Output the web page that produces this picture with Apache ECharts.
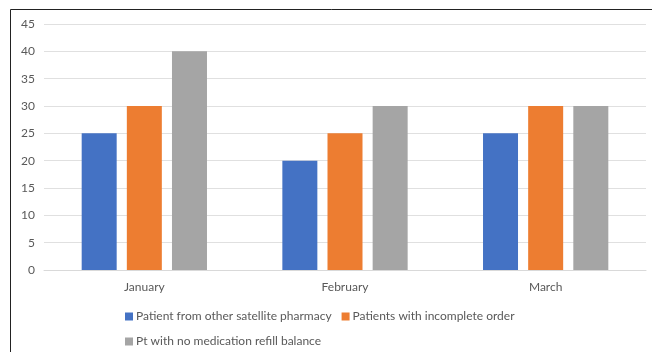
<!DOCTYPE html>
<html>
<head>
<meta charset="utf-8">
<script src="https://cdn.jsdelivr.net/npm/echarts@6/dist/echarts.min.js"></script>
<style>
  html, body { margin: 0; padding: 0; background: #fff; }
  #chart { width: 652px; height: 352px; }
</style>
</head>
<body>
<div id="chart"></div>
<script>
// Monthly counts per reason
const months = ['January', 'February', 'March'];
const seriesNames = [
  'Patient from other satellite pharmacy',
  'Patients with incomplete order',
  'Pt with no medication refill balance'
];
const satellitePharmacy = [25, 20, 25];
const incompleteOrder = [30, 25, 30];
const noRefillBalance = [40, 30, 30];
const colors = ['#4472C4', '#ED7D31', '#A5A5A5'];

const font = 'Lato, "Open Sans", sans-serif';
const chart = echarts.init(document.getElementById('chart'), null, { renderer: 'canvas' });

const values = [satellitePharmacy, incompleteOrder, noRefillBalance];

chart.setOption({
  animation: false,
  textStyle: { fontFamily: font },
  color: colors,
  grid: { left: 44, right: 6, top: 24, bottom: 82 },
  legend: {
    left: 120, top: 304, width: 420,
    itemWidth: 8, itemHeight: 8, itemGap: 10,
    icon: 'rect',
    textStyle: { color: '#595959', fontSize: 12, lineHeight: 15, fontFamily: font, padding: [0, 0, 0, -2] },
    data: seriesNames
  },
  xAxis: {
    type: 'category',
    data: months,
    axisLine: { lineStyle: { color: '#d9d9d9' } },
    axisTick: { show: false },
    axisLabel: { color: '#595959', fontSize: 12, margin: 11 }
  },
  yAxis: {
    type: 'value',
    min: 0, max: 45, interval: 5,
    axisLine: { show: false },
    axisTick: { show: false },
    axisLabel: { color: '#595959', fontSize: 12, margin: 9 },
    splitLine: { lineStyle: { color: '#e0e0e0' } }
  },
  series: seriesNames.map((name, i) => ({
    name,
    type: 'bar',
    data: values[i],
    barWidth: 35,
    barGap: '29%',
    itemStyle: { color: colors[i] }
  })),
  graphic: [{
    type: 'polyline',
    shape: { points: [[10.5, 352], [10.5, 9.5], [652, 9.5]] },
    style: { stroke: '#222', lineWidth: 1, fill: null }
  }]
});
</script>
</body>
</html>
